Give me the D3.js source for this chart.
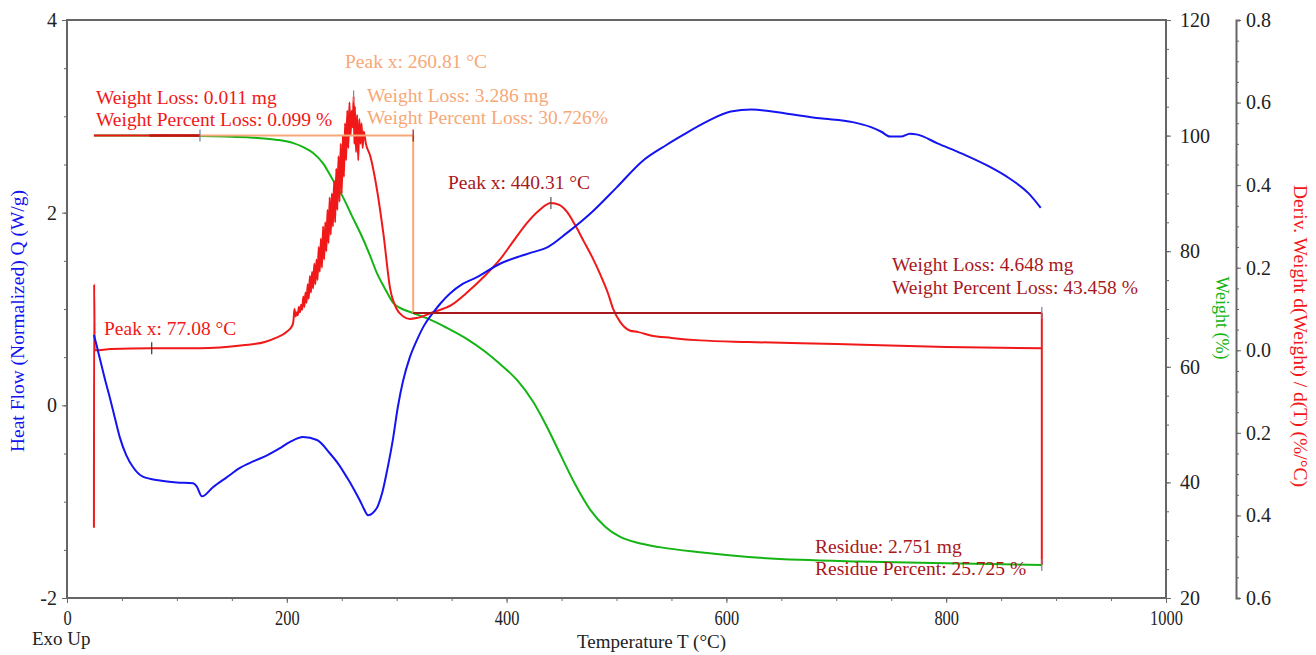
<!DOCTYPE html>
<html lang="en">
<head>
<meta charset="UTF-8">
<title>TGA / DSC curves</title>
<style>
  body { margin: 0; background: #fff; }
  text { font-family: "Liberation Serif", "Times New Roman", serif; }
  .axis path, .axis line { stroke: #666; }
  .axis text { fill: #222; }
</style>
</head>
<body>
<script src="https://d3js.org/d3.v7.min.js"></script>
<script>
// heat flow (W/g) against temperature
const heatT = [24.5, 27, 30, 35, 39, 44, 48, 54, 60, 69, 84.6, 100, 114.7, 118, 122.8, 132.8, 145, 157.4, 170, 182, 193, 203, 214.7, 227.5, 239.3, 247, 254.8, 261, 266.6, 270, 273.9, 278, 283, 287, 291.2, 296.6, 301, 305.7, 312, 318.5, 325, 333, 340, 348.5, 360, 373, 394, 410, 424, 437, 455, 479, 500, 524, 545, 561, 583, 604, 623, 654, 685, 715, 731, 741, 749, 759, 767, 774, 792, 815, 839, 857, 875, 886];
const heatQ = [0.73, 0.62, 0.48, 0.25, 0.08, -0.15, -0.33, -0.52, -0.64, -0.74, -0.78, -0.8, -0.81, -0.84, -0.945, -0.85, -0.75, -0.65, -0.58, -0.52, -0.45, -0.38, -0.33, -0.36, -0.5, -0.61, -0.75, -0.87, -0.99, -1.07, -1.14, -1.12, -1.04, -0.9, -0.68, -0.35, -0.02, 0.25, 0.5, 0.68, 0.83, 0.96, 1.06, 1.16, 1.26, 1.33, 1.47, 1.54, 1.59, 1.64, 1.79, 2.02, 2.26, 2.54, 2.7, 2.81, 2.95, 3.05, 3.07, 3.03, 2.98, 2.94, 2.89, 2.84, 2.79, 2.79, 2.82, 2.81, 2.72, 2.61, 2.48, 2.36, 2.2, 2.05];

// weight (%) against temperature
const weightT = [24.5, 60, 121, 164, 190, 206, 215, 224, 233, 242, 251, 259, 267, 275, 282, 290, 297, 305, 315, 330, 345, 364, 380, 394, 410, 424, 437, 449, 462, 476, 490, 503, 520, 539, 576, 620, 667, 720, 800, 887];
const weightPct = [100.0, 100.0, 99.95, 99.7, 99.3, 98.7, 98.0, 97.0, 95.2, 92.3, 89.4, 86.2, 83.1, 79.6, 76.2, 73.3, 71.0, 70.0, 69.3, 68.2, 66.8, 64.8, 62.7, 60.5, 57.6, 54.0, 49.5, 44.8, 39.8, 35.3, 32.3, 30.6, 29.5, 28.8, 27.9, 27.1, 26.6, 26.3, 26.0, 25.72];

// derivative weight (%/°C) against temperature
const derivT = [24.5, 24.7, 25.2, 40, 77, 120, 160, 180, 190, 200, 205, 206, 207, 208, 209, 210, 211, 212, 213, 214, 215, 216, 217, 218, 219, 220, 221, 222, 223, 224, 225, 226, 227, 228, 229, 230, 231, 232, 233, 234, 235, 236, 237, 238, 239, 240, 241, 242, 243, 244, 245, 246, 247, 248, 249, 250, 251, 252, 253, 254, 255, 256, 257, 258, 259, 260, 260.8, 261.5, 262, 263, 264, 265, 266, 267, 268, 269, 270, 272, 276, 282, 288, 294, 300, 306, 312, 318, 333, 350, 364, 380, 394, 405, 419, 430, 440.3, 448, 455, 462, 470, 478, 485, 492, 497, 503, 512, 520, 531, 550, 576, 620, 700, 800, 887];
const derivV = [-0.43, 0.16, 0.0, 0.003, 0.005, 0.005, 0.012, 0.02, 0.03, 0.045, 0.06, 0.07, 0.1, 0.082, 0.092, 0.085, 0.105, 0.092, 0.11, 0.098, 0.13, 0.105, 0.14, 0.115, 0.16, 0.125, 0.18, 0.14, 0.19, 0.15, 0.21, 0.16, 0.22, 0.17, 0.25, 0.19, 0.27, 0.2, 0.3, 0.22, 0.31, 0.24, 0.34, 0.26, 0.37, 0.28, 0.38, 0.3, 0.41, 0.31, 0.44, 0.34, 0.47, 0.36, 0.5, 0.38, 0.52, 0.42, 0.55, 0.46, 0.58, 0.49, 0.6, 0.52, 0.58, 0.54, 0.615, 0.5, 0.59, 0.48, 0.57, 0.46, 0.56, 0.5, 0.55, 0.49, 0.53, 0.5, 0.47, 0.39, 0.28, 0.15, 0.1, 0.082, 0.076, 0.078, 0.092, 0.11, 0.14, 0.18, 0.22, 0.26, 0.31, 0.34, 0.357, 0.352, 0.335, 0.305, 0.265, 0.225, 0.185, 0.14, 0.1, 0.07, 0.048, 0.044, 0.036, 0.03, 0.024, 0.02, 0.015, 0.008, 0.005];

const xTicks = [0, 200, 400, 600, 800, 1000];
const heatTicks = [-2, 0, 2, 4];
const weightTicks = [20, 40, 60, 80, 100, 120];
const derivTicks = [-0.6, -0.4, -0.2, 0, 0.2, 0.4, 0.6, 0.8];

// analysis results shown on the chart
const step1 = { from: 24.5, to: 121, top: 100, lossMg: "0.011", lossPct: "0.099 %" };
const step2 = { from: 121, to: 315, top: 100, bottom: 69.3, peak: 260.81, lossMg: "3.286", lossPct: "30.726%" };
const step3 = { from: 315, to: 887, top: 69.3, bottom: 25.72, peak: 440.31, lossMg: "4.648", lossPct: "43.458 %" };
const peak1 = 77.08;
const residue = { mg: "2.751", pct: "25.725 %" };

const W = 1316, H = 655;
const L = 67, R = 1166, T = 20, B = 598;
const derivAxisX = 1236;

const blue = "#1414f0", green = "#14b414", red = "#f01818", orange = "#f7a877", darkRed = "#a8181c";
const fs = 19.5;
const serif = '"Liberation Serif", "Times New Roman", serif';

const x = d3.scaleLinear().domain([0, 1000]).range([L, R]);
const yQ = d3.scaleLinear().domain([-2, 4]).range([B, T]);
const yW = d3.scaleLinear().domain([20, 120]).range([B, T]);
const yD = d3.scaleLinear().domain([-0.6, 0.8]).range([B, T]);

const svg = d3.select("body").append("svg")
    .attr("width", W)
    .attr("height", H);

// minor ticks first
function minor(axis, g) {
    g.attr("class", "axis").call(axis).call(s => s.select(".domain").remove());
}
minor(d3.axisLeft(yQ).tickValues(d3.range(-2, 4.01, 0.5)).tickSize(3).tickFormat(""), svg.append("g").attr("transform", `translate(${L},0)`));
minor(d3.axisBottom(x).tickValues(d3.range(0, 1001, 50)).tickSize(3).tickFormat(""), svg.append("g").attr("transform", `translate(0,${B})`));
minor(d3.axisRight(yW).tickValues(d3.range(20, 120.1, 5)).tickSize(3).tickFormat(""), svg.append("g").attr("transform", `translate(${R},0)`));
minor(d3.axisRight(yD).tickValues(d3.range(-0.6, 0.801, 0.05)).tickSize(3).tickFormat(""), svg.append("g").attr("transform", `translate(${derivAxisX},0)`));

// frame
svg.append("rect")
    .attr("x", L).attr("y", T)
    .attr("width", R - L).attr("height", B - T)
    .attr("fill", "none")
    .attr("stroke", "#666")
    .attr("stroke-width", 2);

const plain = d => String(d);

const gLeft = svg.append("g").attr("class", "axis")
    .attr("transform", `translate(${L},0)`)
    .call(d3.axisLeft(yQ).tickValues(heatTicks).tickSize(5).tickSizeOuter(0).tickPadding(5).tickFormat(plain));
gLeft.select(".domain").remove();

const gBottom = svg.append("g").attr("class", "axis")
    .attr("transform", `translate(0,${B})`)
    .call(d3.axisBottom(x).tickValues(xTicks).tickSize(5).tickSizeOuter(0).tickPadding(8).tickFormat(plain));
gBottom.select(".domain").remove();

const gW = svg.append("g").attr("class", "axis")
    .attr("transform", `translate(${R},0)`)
    .call(d3.axisRight(yW).tickValues(weightTicks).tickSize(5).tickSizeOuter(0).tickPadding(9).tickFormat(plain));
gW.select(".domain").remove();

const gD = svg.append("g").attr("class", "axis")
    .attr("transform", `translate(${derivAxisX},0)`)
    .call(d3.axisRight(yD).tickValues(derivTicks).tickSize(5).tickSizeOuter(4).tickPadding(5)
        .tickFormat(d => Math.abs(d).toFixed(1)));
gD.select(".domain").attr("stroke-width", 2);

[gLeft, gW, gD].forEach(g => g.attr("font-family", serif).selectAll("text").attr("font-size", 20));
// bottom labels are drawn a little condensed
gBottom.attr("font-family", serif).selectAll("text")
    .attr("font-size", 20)
    .attr("transform", "scale(0.82,1)");

// axis titles
svg.append("text")
    .attr("transform", `translate(24,${(T + B) / 2 + 12}) rotate(-90)`)
    .attr("text-anchor", "middle")
    .attr("font-size", fs)
    .attr("fill", blue)
    .text("Heat Flow (Normalized) Q (W/g)");

svg.append("text")
    .attr("x", 32).attr("y", 645)
    .attr("font-size", 19)
    .attr("fill", "#222")
    .text("Exo Up");

svg.append("text")
    .attr("x", (L + R) / 2 + 35).attr("y", 648)
    .attr("text-anchor", "middle")
    .attr("font-size", 19)
    .attr("fill", "#222")
    .text("Temperature T (°C)");

svg.append("text")
    .attr("transform", `translate(1216,318) rotate(90)`)
    .attr("text-anchor", "middle")
    .attr("font-size", 18)
    .attr("fill", green)
    .text("Weight (%)");

svg.append("text")
    .attr("transform", `translate(1294,336) rotate(90)`)
    .attr("text-anchor", "middle")
    .attr("font-size", fs)
    .attr("fill", red)
    .text("Deriv. Weight d(Weight) / d(T) (%/°C)");

// curves
const heatLine = d3.line().x(d => x(d[0])).y(d => yQ(d[1])).curve(d3.curveMonotoneX);
const weightLine = d3.line().x(d => x(d[0])).y(d => yW(d[1])).curve(d3.curveMonotoneX);
const derivLine = d3.line().x(d => x(d[0])).y(d => yD(d[1])).curve(d3.curveMonotoneX);

svg.append("path")
    .datum(weightT.map((t, i) => [t, weightPct[i]]))
    .attr("d", weightLine)
    .attr("fill", "none").attr("stroke", green).attr("stroke-width", 2);

svg.append("path")
    .datum(derivT.map((t, i) => [t, derivV[i]]))
    .attr("d", derivLine)
    .attr("fill", "none").attr("stroke", red).attr("stroke-width", 2)
    .attr("stroke-linejoin", "round");

svg.append("path")
    .datum(heatT.map((t, i) => [t, heatQ[i]]))
    .attr("d", heatLine)
    .attr("fill", "none").attr("stroke", blue).attr("stroke-width", 2);

// step markers
function seg(x1, y1, x2, y2, color, w) {
    svg.append("line")
        .attr("x1", x1).attr("y1", y1).attr("x2", x2).attr("y2", y2)
        .attr("stroke", color).attr("stroke-width", w || 1.5);
}
function tick(xp, yp, color) {
    seg(xp, yp - 6, xp, yp + 6, color || "#555", 1.2);
}

seg(x(step1.from), yW(step1.top), x(step1.to), yW(step1.top), red, 2);
seg(x(75), yW(step1.top), x(step1.to), yW(step1.top), "#c0160f", 2.5);
seg(x(step2.from), yW(step2.top), x(step2.to), yW(step2.top), orange, 2);
seg(x(step2.to), yW(step2.top), x(step2.to), yW(step2.bottom), orange, 2);
seg(x(step3.from), yW(step3.top), x(step3.to), yW(step3.top), darkRed, 2);
seg(x(step3.to), yW(step3.top), x(step3.to), yW(step3.bottom), red, 2);
tick(x(step1.to), yW(step1.top), "#7080a0");
tick(x(step2.to), yW(step2.top), darkRed);
tick(x(step3.to), yW(step3.top), "#7080a0");
tick(x(step3.to), yW(step3.bottom), "#7080a0");
tick(x(peak1), yD(0.005), "#333");
tick(x(step2.peak), yD(0.615), "#888");
tick(x(step3.peak), yD(0.357), "#555");

// annotation texts
function label(xp, yp, color, str) {
    svg.append("text")
        .attr("x", xp).attr("y", yp)
        .attr("font-size", fs)
        .attr("fill", color)
        .text(str);
}
label(96, 104, red, `Weight Loss: ${step1.lossMg} mg`);
label(96, 126, red, `Weight Percent Loss: ${step1.lossPct}`);
label(345, 68, orange, `Peak x: ${step2.peak} °C`);
label(367, 102, orange, `Weight Loss: ${step2.lossMg} mg`);
label(367, 124, orange, `Weight Percent Loss: ${step2.lossPct}`);
label(448, 189, darkRed, `Peak x: ${step3.peak} °C`);
label(892, 271, darkRed, `Weight Loss: ${step3.lossMg} mg`);
label(892, 294, darkRed, `Weight Percent Loss: ${step3.lossPct}`);
label(104, 335, red, `Peak x: ${peak1} °C`);
label(815, 553, darkRed, `Residue: ${residue.mg} mg`);
label(815, 575, darkRed, `Residue Percent: ${residue.pct}`);
</script>
</body>
</html>
